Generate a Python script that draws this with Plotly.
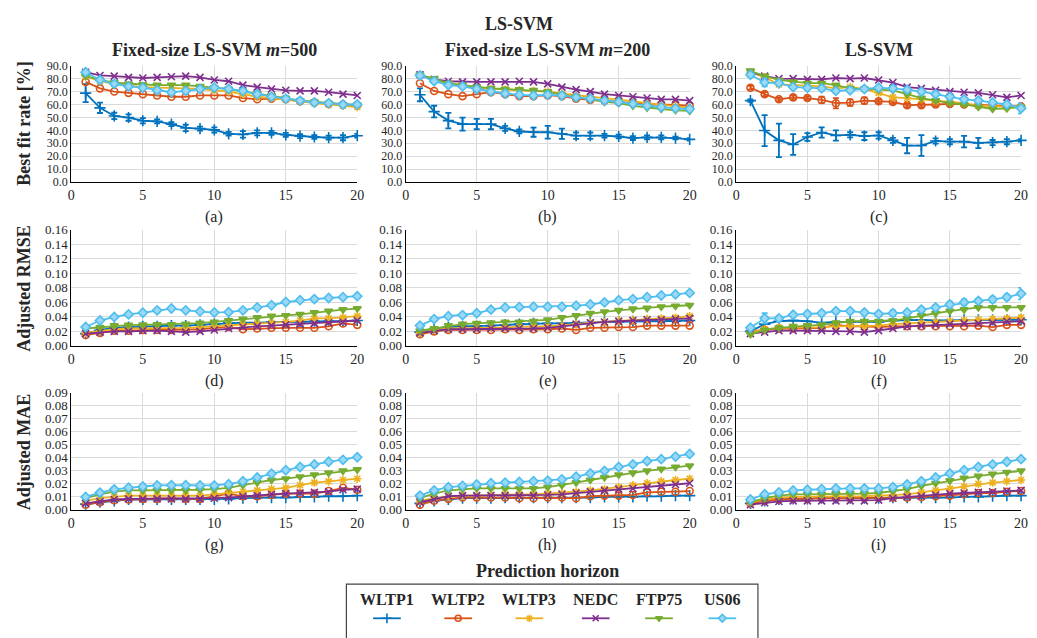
import plotly.graph_objects as go

HORIZON = list(range(1, 21))
SERIES = ["WLTP1", "WLTP2", "WLTP3", "NEDC", "FTP75", "US06"]
COLORS = ["#0072BD", "#D95319", "#EDB120", "#7E2F8E", "#77AC30", "#4DBEEE"]
COL_TITLES = ["Fixed-size LS-SVM <i>m</i>=500", "Fixed-size LS-SVM <i>m</i>=200", "LS-SVM"]
ROW_TITLES = ["Best fit rate [%]", "Adjusted RMSE", "Adjusted MAE"]
PANEL_LABELS = ["(a)", "(b)", "(c)", "(d)", "(e)", "(f)", "(g)", "(h)", "(i)"]
Y_RANGES = [(0, 90), (0, 0.16), (0, 0.09)]
Y_DTICK = [10, 0.02, 0.01]
Y_FMT = [".1f", ".2f", ".2f"]
X_TICKS = [0, 5, 10, 15, 20]

# ---- Row 1: best fit rate [%] ----
A_WLTP1 = [68.8, 57.4, 51.1, 49.9, 47.4, 46.9, 44.8, 41.8, 41.3, 40.3, 37.3, 36.8, 38.0, 38.0, 36.5, 35.5, 34.8, 34.3, 34.3, 35.8]
A_WLTP1_ERR = [7, 4, 2.5, 2.5, 2, 1.5, 1.5, 2.5, 1.5, 2, 1.5, 2.5, 2, 1.5, 1.5, 1.5, 1.5, 1.5, 2, 1.5]
A_WLTP2 = [77.5, 72.5, 70, 69, 68, 67, 66, 66, 67, 67, 67, 65, 64, 64.5, 64, 62.5, 61.5, 60.5, 60, 59.5]
A_WLTP3 = [82, 78, 76, 74.5, 73.5, 73, 73, 72.5, 72, 71, 70, 68, 66, 65, 64, 62.5, 61, 60, 59, 58]
A_NEDC = [85, 82.5, 82, 81, 80.5, 81, 81.5, 82, 81, 79, 78, 75, 73.5, 72, 71, 70.5, 70.5, 69.5, 68, 67]
A_FTP75 = [82, 79, 77, 76, 75.5, 75, 75, 75, 74, 73, 72, 70, 68.5, 67, 65, 63, 62, 61, 60, 59.5]
A_US06 = [85, 79, 76, 74, 73, 71, 69.5, 70.5, 72, 73, 72, 70.5, 68, 66, 64.5, 63, 61.5, 61, 60, 60]

B_WLTP1 = [67.5, 54.5, 47.5, 44.8, 44.8, 44.8, 41.5, 39.2, 38.5, 38.5, 37.3, 35.8, 35.8, 35.8, 35.2, 34.0, 34.5, 34.5, 34.0, 33.0]
B_WLTP1_ERR = [5, 4.5, 6, 5, 4, 4, 2, 1.5, 3.5, 5, 4, 2.5, 2.5, 1.5, 1.5, 1.5, 1.5, 1.5, 1, 1]
B_WLTP2 = [76.5, 70.5, 68, 66.5, 68, 69.5, 68, 66.5, 66.5, 67, 66.5, 64.5, 63.5, 63, 62, 61, 60, 60, 59.5, 59]
B_WLTP3 = [83, 79, 76, 75, 73, 72, 71.5, 71, 70.5, 70, 68.5, 67, 66, 65, 64, 62.5, 61, 59.5, 58.5, 57.5]
B_NEDC = [83, 79.5, 78, 77.5, 77.5, 77.5, 77.5, 78, 77.5, 76, 73.5, 71.5, 70, 68, 67, 66, 65, 64, 64, 63]
B_FTP75 = [83, 80, 76.5, 75, 73.5, 72.5, 72, 71.5, 71, 70, 67.5, 66, 64, 62, 61, 59, 57.5, 56.5, 55.5, 55]
B_US06 = [82.5, 78, 75, 74, 72, 70, 68.5, 67.5, 67, 67.5, 67, 65.5, 64.5, 63, 62, 60.5, 59, 58, 57, 56.5]

C_WLTP1 = [63, 39.8, 32.2, 29, 34.8, 38.3, 36, 36.5, 35.5, 36, 32.2, 28.2, 28.2, 31.7, 31.2, 31.2, 30.2, 30.5, 31.2, 32.2]
C_WLTP1_ERR = [1, 12, 13, 8, 3, 4, 4, 2, 3, 2.5, 2, 6, 8, 2, 2, 4.5, 4, 2, 2, 1]
C_WLTP2 = [73, 68, 64, 65.5, 65, 63.5, 61, 61.5, 63, 62.5, 62, 59.5, 59.5, 60, 60.5, 60, 59.5, 59, 58.5, 58.5]
C_WLTP2_ERR = [1.5, 1.5, 1.5, 1.5, 1.5, 2.5, 4, 2.5, 2.5, 1.5, 1.5, 1.5, 1.5, 1.5, 1.5, 1.5, 1.5, 1.5, 1.5, 1.5]
C_WLTP3 = [85, 81, 75.5, 75, 74, 74, 72.5, 73.5, 72, 69, 65.5, 65, 64, 62.5, 62, 61, 59, 58.5, 58, 58]
C_NEDC = [85, 82, 80, 80, 79.5, 79.5, 80.5, 80, 80.5, 79, 77, 73.5, 72.5, 71, 70, 69.5, 69, 67.5, 65.5, 67]
C_FTP75 = [86, 82, 79, 77.5, 76.5, 76.5, 75, 72.5, 72, 71.5, 71, 68, 65, 63, 61, 60, 58, 56.5, 57, 58]
C_US06 = [83, 77, 76.5, 73.5, 73, 72.5, 70.5, 71, 72, 73, 72.5, 71.5, 70, 68, 66, 64, 63, 61.5, 60, 57]
C_US06_ERR = [1.5, 3, 1.5, 1.5, 1.5, 1.5, 1.5, 1.5, 1.5, 1.5, 1.5, 1.5, 1.5, 1.5, 1.5, 1.5, 1.5, 1.5, 1.5, 4]

# ---- Row 2: adjusted RMSE ----
D_WLTP1 = [0.017, 0.022, 0.025, 0.026, 0.027, 0.027, 0.028, 0.028, 0.029, 0.030, 0.032, 0.032, 0.032, 0.033, 0.033, 0.033, 0.034, 0.034, 0.034, 0.035]
D_WLTP2 = [0.015, 0.018, 0.021, 0.021, 0.022, 0.022, 0.022, 0.022, 0.023, 0.025, 0.026, 0.023, 0.024, 0.025, 0.025, 0.025, 0.025, 0.027, 0.031, 0.029]
D_WLTP3 = [0.018, 0.021, 0.023, 0.024, 0.024, 0.025, 0.025, 0.025, 0.026, 0.027, 0.029, 0.030, 0.031, 0.032, 0.033, 0.035, 0.038, 0.038, 0.039, 0.041]
D_NEDC = [0.017, 0.019, 0.020, 0.020, 0.021, 0.021, 0.020, 0.019, 0.020, 0.022, 0.024, 0.026, 0.027, 0.028, 0.029, 0.030, 0.031, 0.032, 0.033, 0.035]
D_FTP75 = [0.024, 0.0255, 0.028, 0.0287, 0.029, 0.0296, 0.0296, 0.030, 0.0314, 0.033, 0.035, 0.037, 0.039, 0.041, 0.042, 0.0435, 0.046, 0.048, 0.050, 0.0515]
D_US06 = [0.026, 0.035, 0.040, 0.0435, 0.0457, 0.049, 0.0515, 0.049, 0.0475, 0.046, 0.0466, 0.049, 0.053, 0.056, 0.0605, 0.063, 0.0645, 0.066, 0.067, 0.0685]

E_WLTP1 = [0.019, 0.023, 0.026, 0.027, 0.027, 0.028, 0.029, 0.030, 0.031, 0.031, 0.031, 0.032, 0.032, 0.033, 0.033, 0.034, 0.034, 0.034, 0.034, 0.035]
E_WLTP2 = [0.016, 0.020, 0.022, 0.022, 0.022, 0.022, 0.023, 0.022, 0.023, 0.023, 0.024, 0.022, 0.025, 0.025, 0.026, 0.026, 0.028, 0.028, 0.028, 0.028]
E_WLTP3 = [0.018, 0.022, 0.024, 0.025, 0.025, 0.025, 0.026, 0.026, 0.027, 0.027, 0.028, 0.030, 0.032, 0.033, 0.035, 0.036, 0.037, 0.038, 0.039, 0.041]
E_NEDC = [0.018, 0.021, 0.023, 0.023, 0.023, 0.024, 0.024, 0.024, 0.024, 0.025, 0.027, 0.030, 0.032, 0.033, 0.034, 0.035, 0.036, 0.036, 0.037, 0.038]
E_FTP75 = [0.021, 0.024, 0.028, 0.030, 0.031, 0.032, 0.033, 0.033, 0.034, 0.036, 0.039, 0.042, 0.045, 0.047, 0.049, 0.051, 0.052, 0.054, 0.055, 0.056]
E_US06 = [0.028, 0.037, 0.041, 0.0425, 0.045, 0.050, 0.053, 0.0535, 0.054, 0.054, 0.054, 0.0555, 0.057, 0.060, 0.063, 0.0645, 0.067, 0.0695, 0.071, 0.073]

F_WLTP1 = [0.020, 0.030, 0.034, 0.035, 0.034, 0.032, 0.033, 0.033, 0.033, 0.033, 0.035, 0.036, 0.036, 0.035, 0.035, 0.036, 0.036, 0.036, 0.036, 0.036]
F_WLTP2 = [0.020, 0.022, 0.024, 0.024, 0.024, 0.025, 0.029, 0.027, 0.027, 0.026, 0.027, 0.027, 0.027, 0.027, 0.027, 0.027, 0.028, 0.026, 0.029, 0.029]
F_WLTP3 = [0.019, 0.023, 0.025, 0.025, 0.025, 0.026, 0.027, 0.027, 0.027, 0.028, 0.030, 0.031, 0.032, 0.033, 0.034, 0.035, 0.036, 0.037, 0.038, 0.039]
F_NEDC = [0.017, 0.019, 0.021, 0.021, 0.021, 0.021, 0.020, 0.020, 0.019, 0.021, 0.024, 0.027, 0.028, 0.029, 0.030, 0.031, 0.031, 0.032, 0.034, 0.034]
F_FTP75 = [0.016, 0.022, 0.025, 0.027, 0.028, 0.029, 0.032, 0.034, 0.034, 0.034, 0.035, 0.038, 0.042, 0.045, 0.048, 0.050, 0.053, 0.053, 0.053, 0.053]
F_US06 = [0.025, 0.038, 0.038, 0.043, 0.044, 0.045, 0.048, 0.048, 0.046, 0.044, 0.045, 0.046, 0.050, 0.053, 0.057, 0.060, 0.062, 0.064, 0.067, 0.072]
F_US06_ERR = [0.003, 0.007, 0.003, 0.003, 0.003, 0.003, 0.003, 0.003, 0.003, 0.003, 0.004, 0.003, 0.003, 0.003, 0.004, 0.004, 0.003, 0.004, 0.004, 0.008]

# ---- Row 3: adjusted MAE ----
G_WLTP1 = [0.0045, 0.006, 0.007, 0.008, 0.008, 0.008, 0.008, 0.008, 0.008, 0.008, 0.0085, 0.009, 0.0095, 0.0095, 0.0095, 0.010, 0.010, 0.0105, 0.0105, 0.011]
G_WLTP2 = [0.004, 0.006, 0.0075, 0.008, 0.0085, 0.0085, 0.009, 0.0085, 0.0085, 0.0105, 0.0125, 0.0105, 0.0105, 0.0115, 0.0125, 0.0125, 0.0125, 0.0145, 0.017, 0.0155]
G_WLTP3 = [0.007, 0.009, 0.010, 0.011, 0.011, 0.011, 0.011, 0.011, 0.011, 0.012, 0.013, 0.014, 0.015, 0.016, 0.017, 0.019, 0.021, 0.022, 0.023, 0.024]
G_NEDC = [0.005, 0.0065, 0.008, 0.0085, 0.0085, 0.0085, 0.0085, 0.0085, 0.0085, 0.009, 0.0095, 0.0105, 0.011, 0.012, 0.0125, 0.013, 0.0135, 0.014, 0.0155, 0.016]
G_FTP75 = [0.009, 0.012, 0.014, 0.015, 0.015, 0.015, 0.015, 0.015, 0.0155, 0.016, 0.017, 0.019, 0.021, 0.023, 0.024, 0.0255, 0.027, 0.0285, 0.030, 0.031]
G_US06 = [0.010, 0.0133, 0.0158, 0.017, 0.018, 0.0188, 0.019, 0.019, 0.0188, 0.0188, 0.0198, 0.022, 0.025, 0.0278, 0.0305, 0.033, 0.035, 0.037, 0.0385, 0.0405]

H_WLTP1 = [0.005, 0.007, 0.008, 0.009, 0.009, 0.009, 0.0095, 0.0095, 0.0095, 0.0095, 0.0095, 0.0095, 0.0095, 0.010, 0.010, 0.010, 0.0105, 0.0105, 0.011, 0.011]
H_WLTP2 = [0.004, 0.007, 0.0085, 0.0095, 0.0095, 0.0095, 0.0095, 0.009, 0.009, 0.0095, 0.0095, 0.009, 0.0105, 0.011, 0.011, 0.0115, 0.0135, 0.014, 0.014, 0.0145]
H_WLTP3 = [0.007, 0.009, 0.010, 0.011, 0.011, 0.0115, 0.012, 0.012, 0.012, 0.0125, 0.013, 0.014, 0.015, 0.016, 0.0175, 0.019, 0.0205, 0.022, 0.023, 0.024]
H_NEDC = [0.006, 0.008, 0.0105, 0.011, 0.011, 0.011, 0.011, 0.011, 0.011, 0.0115, 0.012, 0.013, 0.014, 0.015, 0.016, 0.0165, 0.0175, 0.0185, 0.0195, 0.0205]
H_FTP75 = [0.009, 0.0125, 0.015, 0.016, 0.0165, 0.0165, 0.0165, 0.0165, 0.0165, 0.0175, 0.019, 0.021, 0.023, 0.025, 0.027, 0.0285, 0.030, 0.0315, 0.033, 0.034]
H_US06 = [0.011, 0.015, 0.0175, 0.0185, 0.0195, 0.0205, 0.021, 0.0215, 0.022, 0.0225, 0.0235, 0.0255, 0.028, 0.030, 0.033, 0.035, 0.0375, 0.039, 0.041, 0.043]

I_WLTP1 = [0.005, 0.007, 0.008, 0.0085, 0.0085, 0.009, 0.009, 0.009, 0.009, 0.009, 0.0095, 0.0095, 0.0095, 0.0095, 0.0095, 0.010, 0.010, 0.0105, 0.011, 0.011]
I_WLTP2 = [0.005, 0.007, 0.008, 0.0085, 0.0085, 0.009, 0.009, 0.009, 0.009, 0.0095, 0.0095, 0.0095, 0.010, 0.0105, 0.011, 0.012, 0.013, 0.013, 0.014, 0.0145]
I_WLTP3 = [0.006, 0.008, 0.0095, 0.010, 0.010, 0.0105, 0.0105, 0.0105, 0.0105, 0.011, 0.0115, 0.012, 0.0135, 0.015, 0.0165, 0.018, 0.020, 0.021, 0.022, 0.023]
I_NEDC = [0.004, 0.0055, 0.0065, 0.007, 0.007, 0.007, 0.007, 0.007, 0.007, 0.0075, 0.009, 0.010, 0.0105, 0.0115, 0.0125, 0.013, 0.0135, 0.014, 0.0145, 0.015]
I_FTP75 = [0.006, 0.009, 0.011, 0.012, 0.012, 0.012, 0.0125, 0.0125, 0.0125, 0.013, 0.0145, 0.016, 0.0185, 0.0205, 0.0225, 0.0245, 0.026, 0.0275, 0.029, 0.030]
I_US06 = [0.008, 0.012, 0.0135, 0.015, 0.0155, 0.016, 0.0165, 0.0165, 0.0165, 0.0165, 0.0175, 0.0195, 0.022, 0.025, 0.028, 0.0305, 0.033, 0.035, 0.037, 0.039]

PANELS = [
    [A_WLTP1, A_WLTP2, A_WLTP3, A_NEDC, A_FTP75, A_US06],
    [B_WLTP1, B_WLTP2, B_WLTP3, B_NEDC, B_FTP75, B_US06],
    [C_WLTP1, C_WLTP2, C_WLTP3, C_NEDC, C_FTP75, C_US06],
    [D_WLTP1, D_WLTP2, D_WLTP3, D_NEDC, D_FTP75, D_US06],
    [E_WLTP1, E_WLTP2, E_WLTP3, E_NEDC, E_FTP75, E_US06],
    [F_WLTP1, F_WLTP2, F_WLTP3, F_NEDC, F_FTP75, F_US06],
    [G_WLTP1, G_WLTP2, G_WLTP3, G_NEDC, G_FTP75, G_US06],
    [H_WLTP1, H_WLTP2, H_WLTP3, H_NEDC, H_FTP75, H_US06],
    [I_WLTP1, I_WLTP2, I_WLTP3, I_NEDC, I_FTP75, I_US06],
]
ERRORS = {
    (0, 0): A_WLTP1_ERR, (1, 0): B_WLTP1_ERR, (2, 0): C_WLTP1_ERR,
    (2, 1): C_WLTP2_ERR, (2, 5): C_US06_ERR, (5, 5): F_US06_ERR,
}

# ---------------- styling / layout ----------------
# The page body has an 8px default margin, so the figure is drawn 8px
# in from the window's top-left; pixel specs below are window pixels.
OFF = 8
W, H = 1037 - OFF, 638 - OFF
FONT = "Liberation Serif"
TXT = "#262626"
Y_TICK_SIZES = [12, 13, 13]
X_TICK_SIZE = 14
COL_PX = [(68, 357), (406, 693), (740, 1028)]
ROW_PX = [(60, 179), (228, 347), (395, 515)]


def fx(px):
    return (px - OFF) / W


def fy(py):
    return 1 - (py - OFF) / H


MARKERS = [
    dict(symbol="cross-thin", size=8),
    dict(symbol="circle-open", size=7),
    dict(symbol="asterisk-open", size=7),
    dict(symbol="x-thin", size=7),
    dict(symbol="triangle-down", size=7),
    dict(symbol="diamond", size=7),
]


def marker_style(i):
    m = MARKERS[i]
    c = COLORS[i]
    fill = "#9ad8f5" if SERIES[i] == "US06" else c
    return dict(symbol=m["symbol"], size=m["size"], color=fill,
                line=dict(color=c, width=1.6))


def txt(text, xpx, ypx, size, angle=0):
    return dict(text=text, x=fx(xpx), y=fy(ypx), xref="paper",
                yref="paper", xanchor="center", yanchor="middle",
                showarrow=False, textangle=angle,
                font=dict(size=size, family=FONT, color=TXT))


fig = go.Figure()
layout = dict(
    width=W, height=H, margin=dict(l=0, r=0, t=0, b=0),
    paper_bgcolor="white", plot_bgcolor="rgba(0,0,0,0)",
    font=dict(family=FONT, color=TXT, size=16),
    showlegend=False,
)
annotations = []

for k in range(9):
    r, c = divmod(k, 3)
    n = k + 1
    xs = "" if n == 1 else str(n)
    x0, x1 = COL_PX[c]
    y0, y1 = ROW_PX[r]
    layout["xaxis" + xs] = dict(
        domain=[fx(x0), fx(x1)], anchor="y" + xs, range=[0, 20],
        tickvals=X_TICKS, showgrid=True, gridcolor="#dadada", gridwidth=1,
        zeroline=False, showline=True, linecolor="black", linewidth=1.2,
        ticks="", tickfont=dict(size=X_TICK_SIZE, family=FONT, color=TXT),
    )
    lo, hi = Y_RANGES[r]
    layout["yaxis" + xs] = dict(
        domain=[fy(y1), fy(y0)], anchor="x" + xs, range=[lo, hi],
        dtick=Y_DTICK[r], tick0=0, tickformat=Y_FMT[r], showgrid=True,
        gridcolor="#dadada", gridwidth=1, zeroline=False, showline=True,
        linecolor="black", linewidth=1.2, ticks="",
        tickfont=dict(size=Y_TICK_SIZES[r], family=FONT, color=TXT),
    )
    for i, vals in enumerate(PANELS[k]):
        err = ERRORS.get((k, i))
        tr = dict(
            x=HORIZON, y=vals, mode="lines+markers", name=SERIES[i],
            line=dict(color=COLORS[i], width=1.8), marker=marker_style(i),
            xaxis="x" + xs, yaxis="y" + xs, showlegend=False, cliponaxis=False,
        )
        if err is not None:
            tr["error_y"] = dict(type="data", array=err, visible=True,
                                 color=COLORS[i], thickness=1.8, width=3)
        fig.add_trace(go.Scatter(**tr))
    annotations.append(txt(PANEL_LABELS[k], (x0 + x1) / 2, y1 + 36, 16))

annotations.append(txt("<b>LS-SVM</b>", 520, 17, 18))
for c, t in enumerate(COL_TITLES):
    x0, x1 = COL_PX[c]
    annotations.append(txt("<b>" + t + "</b>", (x0 + x1) / 2, 44, 18))
for r, t in enumerate(ROW_TITLES):
    y0, y1 = ROW_PX[r]
    annotations.append(txt("<b>" + t + "</b>", 20, (y0 + y1) / 2, 18, -90))
annotations.append(txt("<b>Prediction horizon</b>", 549, 578, 18))

# custom legend: name above a line sample
LEG_X = [387, 459, 531, 598, 662, 726]
LEG_NAME_Y = 607
LEG_LINE_Y = 626
LEG_HALF = 14
layout["xaxis10"] = dict(domain=[0, 1], range=[OFF, OFF + W], visible=False,
                         anchor="y10", fixedrange=True)
layout["yaxis10"] = dict(domain=[0, 1], range=[OFF + H, OFF], visible=False,
                         anchor="x10", fixedrange=True)
for i, cx in enumerate(LEG_X):
    fig.add_trace(go.Scatter(
        x=[cx - LEG_HALF, cx + LEG_HALF], y=[LEG_LINE_Y, LEG_LINE_Y],
        mode="lines", line=dict(color=COLORS[i], width=1.8),
        xaxis="x10", yaxis="y10", showlegend=False, hoverinfo="skip"))
    ms = marker_style(i)
    ms["size"] = ms["size"] - 1
    fig.add_trace(go.Scatter(
        x=[cx], y=[LEG_LINE_Y], mode="markers", marker=ms,
        xaxis="x10", yaxis="y10", showlegend=False, hoverinfo="skip"))
    annotations.append(txt("<b>" + SERIES[i] + "</b>", cx, LEG_NAME_Y, 16))

layout["shapes"] = [dict(type="rect", xref="paper", yref="paper",
                         x0=fx(346), x1=fx(762), y0=-0.05, y1=fy(591),
                         line=dict(color="#444", width=1.2),
                         fillcolor="rgba(0,0,0,0)")]
layout["annotations"] = annotations
fig.update_layout(**layout)
fig.write_html("out.html")
